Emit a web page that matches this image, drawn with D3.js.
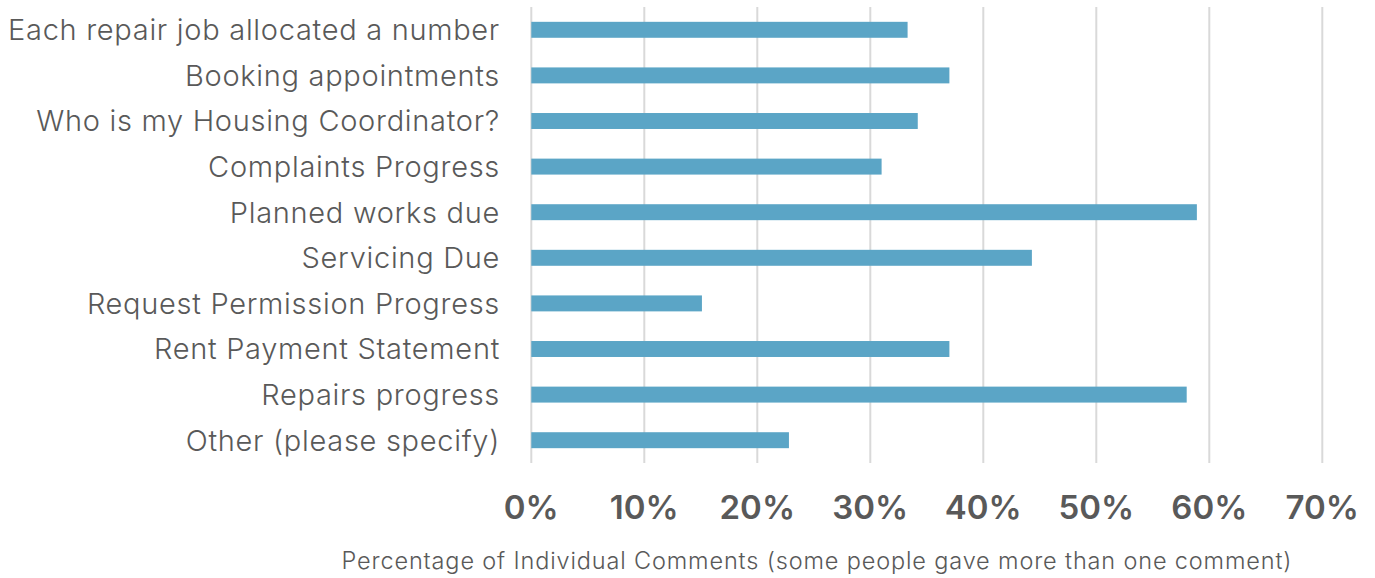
<!DOCTYPE html>
<html><head><meta charset="utf-8">
<script src="https://cdn.jsdelivr.net/npm/d3@7"></script>
<style>body{margin:0;background:#fff}svg{display:block}</style>
</head><body>
<svg id="c" width="1375" height="578"></svg>
<script>
const categories = ["Each repair job allocated a number","Booking appointments","Who is my Housing Coordinator?","Complaints Progress","Planned works due","Servicing Due","Request Permission Progress","Rent Payment Statement","Repairs progress","Other (please specify)"];
const values = [33.3, 37.0, 34.2, 31.0, 58.9, 44.3, 15.1, 37.0, 58.0, 22.8];
const ticks = [0,10,20,30,40,50,60,70];
const xTitle = "Percentage of Individual Comments (some people gave more than one comment)";

const svg = d3.select("#c");
const x = d3.scaleLinear().domain([0,70]).range([531.3,1322.3]);
const y = d3.scaleBand().domain(categories).range([7,463]).paddingInner(0.65).paddingOuter(0.325);

svg.append("g").selectAll("line").data(ticks).join("line")
  .attr("x1",d=>x(d)).attr("x2",d=>x(d)).attr("y1",7).attr("y2",463)
  .attr("stroke","#d9d9d9").attr("stroke-width",2);

svg.append("g").selectAll("rect").data(categories).join("rect")
  .attr("x",x(0)).attr("y",d=>y(d)).attr("height",y.bandwidth())
  .attr("width",(d,i)=>x(values[i])-x(0)).attr("fill","#5ba5c6");

svg.append("g").selectAll("text").data(categories).join("text")
  .attr("x",500).attr("y",d=>y(d)+y.bandwidth()/2).attr("dy","0.36em")
  .attr("text-anchor","end").attr("fill","#595959")
  .style("font-family","Inter").style("font-size","29px").style("font-weight",300)
  .style("letter-spacing","0.7px")
  .text(d=>d);

svg.append("g").selectAll("text").data(ticks).join("text")
  .attr("x",d=>x(d)).attr("y",519).attr("text-anchor","middle").attr("fill","#595959")
  .style("font-family","Inter").style("font-size","33px").style("font-weight",600)
  .text(d=>d+"%");

svg.append("text").attr("x",817).attr("y",569).attr("text-anchor","middle").attr("fill","#595959")
  .style("font-family","Inter").style("font-size","23.5px").style("font-weight",300)
  .style("letter-spacing","0.85px").text(xTitle);
</script>
</body></html>
